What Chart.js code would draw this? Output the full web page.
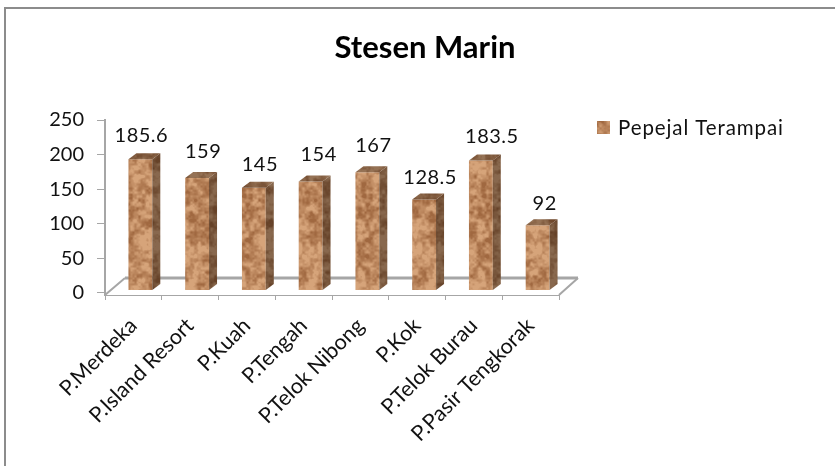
<!DOCTYPE html>
<html><head><meta charset="utf-8">
<style>html,body{margin:0;padding:0;background:#fff}
#w{position:absolute;left:0;top:0;width:835px;height:466px}</style>
<script src="https://cdn.jsdelivr.net/npm/chart.js@4"></script></head>
<body><div id="w"><canvas id="c" width="835" height="466"></canvas></div>
<script>
const categories=["P.Merdeka","P.Island Resort","P.Kuah","P.Tengah","P.Telok Nibong","P.Kok","P.Telok Burau","P.Pasir Tengkorak"];
const seriesName="Pepejal Terampai";
const values=[185.6,159,145,154,167,128.5,183.5,92];
const valueLabels=["185.6","159","145","154","167","128.5","183.5","92"];
const yTicks=[0,50,100,150,200,250];
const titleText="Stesen Marin";
// where each value label sits relative to its bar
const labelNudgeX=[0,5,5,7,5,5,10,6];
const labelNudgeY=[-24,-26,-23,-27,-27,-22,-24,-22];

// deterministic cork-like texture (tileable value noise, three octaves)
function hash(x,y){let h=Math.sin(x*127.1+y*311.7)*43758.5453;return h-Math.floor(h);}
function makeTexture(f){
  const n=120,s=document.createElement('canvas');s.width=s.height=n;
  const g=s.getContext('2d');
  function noise(x,y,blk){
    const X=x/blk,Y=y/blk,ix=Math.floor(X),iy=Math.floor(Y),fx=X-ix,fy=Y-iy,w=Math.round(n/blk);
    const a=hash(ix%w,iy%w),b=hash((ix+1)%w,iy%w),c=hash(ix%w,(iy+1)%w),d=hash((ix+1)%w,(iy+1)%w);
    const u=fx*fx*(3-2*fx),v=fy*fy*(3-2*fy);
    return a*(1-u)*(1-v)+b*u*(1-v)+c*(1-u)*v+d*u*v;
  }
  for(let y=0;y<n;y++)for(let x=0;x<n;x++){
    const t=Math.max(0,Math.min(1,(noise(x,y,8)*0.4+noise(x,y,4)*0.4+noise(x,y,2)*0.2-0.5)*2.4+0.62));
    const r=(160+t*54)*f,gg=(104+t*60)*f,b=(64+t*58)*f;
    g.fillStyle=`rgb(${r|0},${gg|0},${b|0})`;g.fillRect(x,y,1,1);
  }
  return s;
}
const ctx0=document.getElementById('c').getContext('2d');
const front=ctx0.createPattern(makeTexture(1),'repeat');
const side=ctx0.createPattern(makeTexture(0.64),'repeat');
const topFace=ctx0.createPattern(makeTexture(0.7),'repeat');

const SHIFT_X=7, DX=8, DY=6;
const frame3d={
  id:'frame3d',
  beforeDraw(ch){
    const c=ch.ctx,xs=ch.scales.x,ys=ch.scales.y;
    c.save();c.fillStyle='#fff';c.fillRect(0,0,835,466);
    c.strokeStyle='#8c8c8c';c.lineWidth=2;
    c.beginPath();c.moveTo(5,466);c.lineTo(5,8);c.lineTo(835,8);c.stroke();
    const b=ys.bottom,l=xs.left,r=xs.right;
    c.strokeStyle='#a6a6a6';c.lineWidth=3;
    c.beginPath();c.moveTo(l+20,b-17);c.lineTo(r+19,b-17);c.stroke();
    c.lineWidth=2;
    c.beginPath();c.moveTo(r+19,b-17);c.lineTo(r,b);c.moveTo(l,b);c.lineTo(l+20,b-17);c.stroke();
    c.restore();
  },
  beforeDatasetDraw(ch){ch.ctx.save();ch.ctx.translate(SHIFT_X,0);},
  afterDatasetDraw(ch){
    const c=ch.ctx,m=ch.getDatasetMeta(0);
    m.data.forEach((bar,i)=>{
      const p=bar.getProps(['x','y','base','width'],true);
      const L=p.x-p.width/2,R=p.x+p.width/2,T=p.y,B=p.base;
      c.fillStyle=side;c.beginPath();c.moveTo(R,T);c.lineTo(R+DX,T-DY);c.lineTo(R+DX,B-DY);c.lineTo(R,B);c.closePath();c.fill();
      c.fillStyle=topFace;c.beginPath();c.moveTo(L,T);c.lineTo(L+DX,T-DY);c.lineTo(R+DX,T-DY);c.lineTo(R,T);c.closePath();c.fill();
      c.fillStyle='#111';c.font='20px Lato';c.letterSpacing='0.5px';c.textAlign='center';c.textBaseline='middle';
      c.fillText(valueLabels[i],p.x+1+labelNudgeX[i],T+labelNudgeY[i]);
      c.letterSpacing='0px';
    });
    c.restore();
  }
};
const staticText={
  id:'staticText',
  afterDraw(ch){
    const c=ch.ctx;c.save();
    c.fillStyle='#000';c.font='bold 31px Lato';c.textAlign='center';c.textBaseline='middle';
    c.fillText(titleText,425,48);
    c.fillStyle=front;c.fillRect(597,121,13,13);
    c.fillStyle='#111';c.font='20.5px Lato';c.letterSpacing='0.9px';c.textAlign='left';
    c.fillText(seriesName,618,128);
    c.restore();
  }
};
new Chart(ctx0,{
  type:'bar',
  data:{labels:categories,datasets:[{label:seriesName,data:values,yAxisID:'yb',backgroundColor:front,borderWidth:0,barPercentage:0.42,categoryPercentage:1}]},
  plugins:[frame3d,staticText],
  options:{
    responsive:false,animation:false,
    layout:{padding:{left:5,top:120,right:276,bottom:0}},
    plugins:{title:{display:false},legend:{display:false},tooltip:{enabled:false}},
    scales:{
      x:{position:'bottom',afterFit(s){s.height=171;},
         grid:{display:true,drawOnChartArea:false,drawTicks:true,tickLength:5,color:'#a6a6a6',offset:true},
         border:{color:'#a6a6a6',width:1},
         ticks:{color:'#111',font:{family:'Lato',size:21.5},minRotation:45,maxRotation:45,autoSkip:false,padding:13}},
      y:{position:'left',min:-2.9,max:250,afterFit(s){s.width=100;},
         afterBuildTicks(s){s.ticks=yTicks.map(v=>({value:v}));},
         grid:{drawOnChartArea:false,tickLength:8,color:'#a6a6a6'},
         border:{color:'#a6a6a6',width:2},
         ticks:{color:'#111',font:{family:'Lato',size:20},padding:13}},
      yb:{display:false,min:-7.09,max:241.1}
    }
  }
});
</script></body></html>
